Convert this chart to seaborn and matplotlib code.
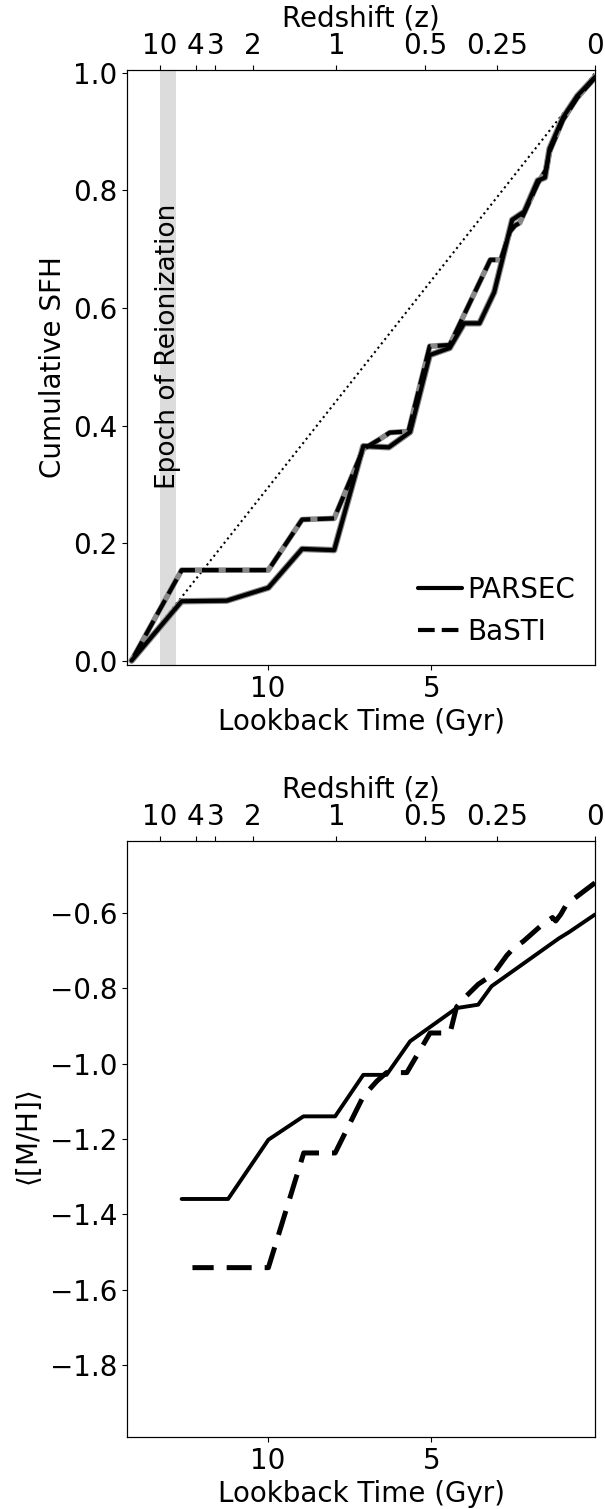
import matplotlib
matplotlib.use("Agg")
import matplotlib.pyplot as plt
import seaborn as sns

# cumulative SFH (lookback time in Gyr)
t_parsec_cum = [14.16, 12.63, 11.25, 9.98, 8.95, 7.97, 7.08, 6.3, 5.65, 5.05, 4.44,
                4.0, 3.53, 3.08, 2.53, 2.16, 1.75, 1.53, 1.39, 0.98, 0.54, 0.0]
parsec_cum = [0.0, 0.101, 0.102, 0.124, 0.19, 0.188, 0.365, 0.363, 0.389, 0.52, 0.532,
              0.574, 0.574, 0.627, 0.75, 0.764, 0.817, 0.822, 0.871, 0.924, 0.961, 0.993]

t_basti_cum = [14.16, 12.63, 9.98, 8.95, 7.97, 7.08, 6.6, 6.27, 5.7, 5.05, 4.44, 3.2,
               2.88, 2.6, 2.45, 2.3, 2.16, 1.75, 1.5, 1.39, 0.98, 0.54, 0.0]
basti_cum = [0.0, 0.154, 0.154, 0.24, 0.242, 0.36, 0.376, 0.388, 0.39, 0.535, 0.537, 0.682,
             0.682, 0.73, 0.74, 0.745, 0.762, 0.812, 0.835, 0.866, 0.92, 0.958, 0.992]

# mean metallicity
t_parsec_mh = [12.63, 11.21, 9.98, 8.91, 7.94, 7.08, 6.37, 5.65, 4.23, 3.57, 3.16, 1.1, 0.8, 0.0]
parsec_mh = [-1.359, -1.359, -1.202, -1.140, -1.140, -1.030, -1.030, -0.941, -0.853,
             -0.844, -0.795, -0.668, -0.652, -0.605]

t_basti_mh = [12.3, 9.98, 8.9, 7.94, 7.08, 6.67, 6.37, 5.75, 5.04, 4.43, 4.23, 3.92, 3.57,
              3.11, 2.7, 2.5, 2.19, 1.63, 1.3, 1.2, 1.05, 0.87, 0.0]
basti_mh = [-1.541, -1.541, -1.237, -1.237, -1.087, -1.047, -1.024, -1.024, -0.919, -0.919,
            -0.85, -0.82, -0.79, -0.763, -0.714, -0.695, -0.676, -0.633, -0.613, -0.622,
            -0.605, -0.578, -0.521]

# redshift axis
z_labels = ["10", "4", "3", "2", "1", "0.5", "0.25", "0"]
z_lookback = [13.3, 12.2, 11.6, 10.45, 7.9, 5.2, 3.0, 0.0]

reion = (12.8, 13.3)
t_start = 14.16

sns.set_style("ticks", {"axes.edgecolor": "black", "text.color": "black",
                        "axes.labelcolor": "black", "xtick.color": "black",
                        "ytick.color": "black"})
plt.rcParams["font.family"] = ["DejaVu Sans"]
plt.rcParams["font.size"] = 20

fs = 20
fig = plt.figure(figsize=(6.05, 15.09), dpi=100)
ax1 = fig.add_axes([0.2099, 0.5593, 0.7736, 0.3943])
ax2 = fig.add_axes([0.2099, 0.0477, 0.7736, 0.395])

dash = (0, (4, 1.7))

# --- top: cumulative SFH
ax1.axvspan(reion[0], reion[1], color="#dcdcdc", lw=0, zorder=0)
ax1.text(sum(reion) / 2, 0.535, "Epoch of Reionization", rotation=90,
         ha="center", va="center", fontsize=19)
ax1.plot([t_start, 0.0], [0.0, 1.0], ls=":", color="black", lw=1.5)

sns.lineplot(x=t_parsec_cum, y=parsec_cum, ax=ax1, color="#888888", lw=4.6)
sns.lineplot(x=t_basti_cum, y=basti_cum, ax=ax1, color="#888888", lw=4.0)
sns.lineplot(x=t_parsec_cum, y=parsec_cum, ax=ax1, color="black", lw=3, label="PARSEC")
sns.lineplot(x=t_basti_cum, y=basti_cum, ax=ax1, color="black", lw=3,
             linestyle=dash, label="BaSTI")

ax1.legend(loc="lower right", frameon=False, fontsize=fs, handlelength=1.6,
           handletextpad=0.2, borderaxespad=0.3)
ax1.set_ylim(-0.0075, 1.005)
ax1.set_ylabel("Cumulative SFH", fontsize=fs)

# --- bottom: metallicity
sns.lineplot(x=t_parsec_mh, y=parsec_mh, ax=ax2, color="black", lw=2.8)
sns.lineplot(x=t_basti_mh, y=basti_mh, ax=ax2, color="black", lw=3.6,
             linestyle=(0, (5, 2.6)))
ax2.set_ylim(-1.99, -0.41)
ax2.set_yticks([-1.8, -1.6, -1.4, -1.2, -1.0, -0.8, -0.6])
ax2.set_ylabel(r"$\langle$[M/H]$\rangle$", fontsize=fs)

for ax in (ax1, ax2):
    ax.set_xlim(14.3, 0.0)
    ax.set_xticks([10, 5])
    ax.set_xlabel("Lookback Time (Gyr)", fontsize=fs)
    ax.tick_params(labelsize=fs)
    top = ax.twiny()
    top.set_xlim(ax.get_xlim())
    top.set_xticks(z_lookback)
    top.set_xticklabels(z_labels)
    top.tick_params(labelsize=fs)
    top.set_xlabel("Redshift (z)", fontsize=fs)

fig.savefig("out.png", dpi=100)
